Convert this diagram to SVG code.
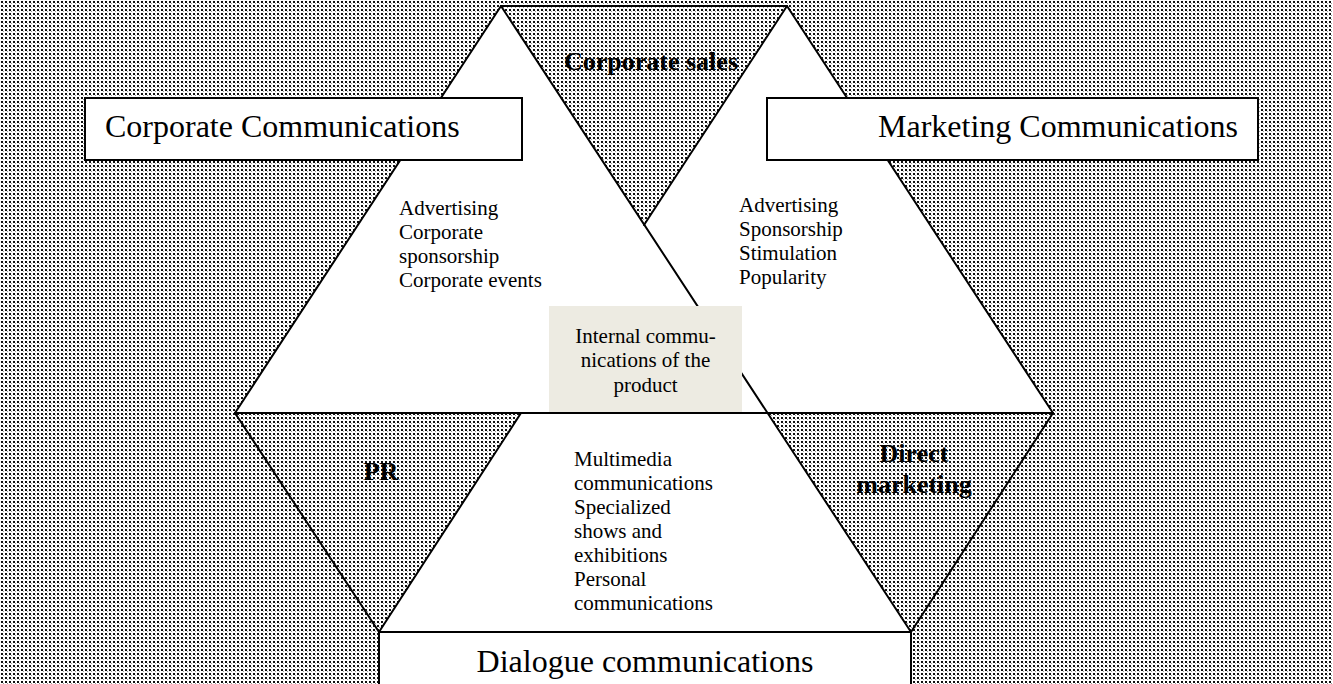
<svg xmlns="http://www.w3.org/2000/svg" width="1333" height="684" viewBox="0 0 1333 684">
  <defs>
    <pattern id="dots" width="4" height="4" patternUnits="userSpaceOnUse">
      <rect width="4" height="4" fill="#ffffff"/>
      <rect x="1" y="1" width="2" height="2" fill="#111111"/>
      <rect x="3" y="3" width="1" height="1" fill="#9a9a9a"/>
    </pattern>
    <style>
      .edge { stroke: #000; stroke-width: 2; fill: none; stroke-linecap: round; }
      .white { fill: #fff; stroke: none; }
      .box { fill: #fff; stroke: #000; stroke-width: 2; }
      .title { font-family: "Liberation Serif", "Times New Roman", serif; font-size: 32px; fill: #000; }
      .list { font-family: "Liberation Serif", "Times New Roman", serif; font-size: 21px; fill: #000; }
      .zone { font-family: "Liberation Serif", "Times New Roman", serif; font-size: 26px; font-weight: bold; fill: #000; }
      .internal { fill: #edebe2; stroke: none; }
    </style>
  </defs>

  <!-- shaded background -->
  <rect x="0" y="0" width="1333" height="684" fill="url(#dots)"/>

  <!-- white regions -->
  <g id="regions">
    <polygon class="white" points="501,6 235,413 767,413"/>
    <polygon class="white" points="787,6 521,413 1053,413"/>
    <polygon class="white" points="521,413 767,413 911,632 379,632"/>
  </g>

  <!-- connectors / edges -->
  <g id="connectors">
    <line class="edge" x1="501" y1="6" x2="787" y2="6"/>
    <line class="edge" x1="501" y1="6" x2="235" y2="413"/>
    <line class="edge" x1="501" y1="6" x2="911" y2="632"/>
    <line class="edge" x1="787" y1="6" x2="644" y2="225"/>
    <line class="edge" x1="521" y1="413" x2="379" y2="632"/>
    <line class="edge" x1="787" y1="6" x2="1053" y2="413"/>
    <line class="edge" x1="235" y1="413" x2="379" y2="632"/>
    <line class="edge" x1="1053" y1="413" x2="911" y2="632"/>
  </g>

  <g id="internal-communications">
    <rect class="internal" x="549" y="306" width="193" height="107"/>
    <text class="list" text-anchor="middle" x="645.5" y="343">Internal commu-</text>
    <text class="list" text-anchor="middle" x="645.5" y="367">nications of the</text>
    <text class="list" text-anchor="middle" x="645.5" y="392">product</text>
  </g>

  <g id="middle-line">
    <line class="edge" x1="235" y1="413" x2="1053" y2="413"/>
  </g>

  <g id="corporate-communications">
    <rect class="box" x="85" y="98" width="437" height="62"/>
    <text class="title" x="105" y="137">Corporate Communications</text>
  </g>

  <g id="marketing-communications">
    <rect class="box" x="767" y="98" width="491" height="62"/>
    <text class="title" x="1238" y="137" text-anchor="end">Marketing Communications</text>
  </g>

  <g id="dialogue-communications">
    <rect class="box" x="379" y="632" width="532" height="70"/>
    <text class="title" x="645" y="672" text-anchor="middle">Dialogue communications</text>
  </g>

  <g id="corporate-sales">
    <text class="zone" x="651" y="70" text-anchor="middle">Corporate sales</text>
  </g>

  <g id="pr">
    <text class="zone" x="381" y="480" text-anchor="middle">PR</text>
  </g>

  <g id="direct-marketing">
    <text class="zone" x="914" y="462" text-anchor="middle">Direct</text>
    <text class="zone" x="914" y="493" text-anchor="middle">marketing</text>
  </g>

  <g id="corporate-list">
    <text class="list" x="399" y="215">Advertising</text>
    <text class="list" x="399" y="239">Corporate</text>
    <text class="list" x="399" y="263">sponsorship</text>
    <text class="list" x="399" y="287">Corporate events</text>
  </g>

  <g id="marketing-list">
    <text class="list" x="739" y="212">Advertising</text>
    <text class="list" x="739" y="236">Sponsorship</text>
    <text class="list" x="739" y="260">Stimulation</text>
    <text class="list" x="739" y="284">Popularity</text>
  </g>

  <g id="dialogue-list">
    <text class="list" x="574" y="466">Multimedia</text>
    <text class="list" x="574" y="490">communications</text>
    <text class="list" x="574" y="514">Specialized</text>
    <text class="list" x="574" y="538">shows and</text>
    <text class="list" x="574" y="562">exhibitions</text>
    <text class="list" x="574" y="586">Personal</text>
    <text class="list" x="574" y="610">communications</text>
  </g>
</svg>
